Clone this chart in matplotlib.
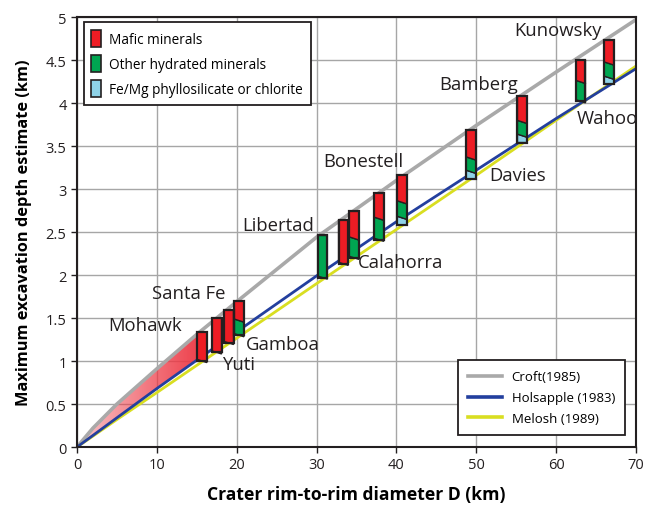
import numpy as np
import matplotlib
matplotlib.use("Agg")
import matplotlib.pyplot as plt
from matplotlib.patches import Polygon, Rectangle
from matplotlib.lines import Line2D

plt.rcParams['font.family'] = ['Open Sans', 'DejaVu Sans']

# model curves (D in km, depth in km)
curve_D = [0, 2, 5, 10, 15, 20, 30, 40, 50, 60, 70]
croft = [0, 0.22, 0.50, 0.91, 1.31, 1.69, 2.44, 3.10, 3.74, 4.36, 4.97]
holsapple = [0, 0.135, 0.34, 0.68, 1.01, 1.34, 1.99, 2.62, 3.22, 3.82, 4.40]
melosh = [0, 0.127, 0.32, 0.633, 0.95, 1.266, 1.90, 2.53, 3.16, 3.80, 4.43]

# crater bars: centre diameter, bottom, top of phyllosilicate, top of hydrated, top
bar_D = [15.66, 17.5, 19.0, 20.3, 30.75, 33.35, 34.7, 37.8, 40.7, 49.35, 55.75, 63.07, 66.6]
bar_bottom = [1.00, 1.10, 1.21, 1.30, 1.97, 2.13, 2.20, 2.41, 2.58, 3.12, 3.54, 4.02, 4.22]
phyllo_top = [1.00, 1.10, 1.21, 1.30, 1.97, 2.13, 2.20, 2.41, 2.665, 3.20, 3.62, 4.02, 4.295]
hydrated_top = [1.00, 1.10, 1.21, 1.47, 2.46, 2.13, 2.425, 2.655, 2.845, 3.355, 3.78, 4.245, 4.46]
bar_top = [1.34, 1.50, 1.59, 1.70, 2.46, 2.64, 2.74, 2.95, 3.16, 3.69, 4.08, 4.50, 4.73]

labels = ['Mohawk', 'Santa Fe', 'Yuti', 'Gamboa', 'Libertad', 'Calahorra', 'Bonestell',
          'Davies', 'Bamberg', 'Kunowsky', 'Wahoo']
label_pos = [(3.9, 1.42), (9.4, 1.79), (18.1, 0.96), (21.2, 1.20), (20.7, 2.58), (35.2, 2.15),
             (30.8, 3.33), (51.6, 3.16), (45.4, 4.22), (54.8, 4.85), (62.6, 3.82)]

RED = '#ed1c24'
GREEN = '#00a651'
LBLUE = '#8fd3e8'
GRAY = '#a9a9a9'
BLUE = '#233f9e'
YELLOW = '#d9de21'

fig = plt.figure(figsize=(6.51, 5.06), dpi=100)
ax = fig.add_axes([0.1183, 0.1146, 0.8587, 0.8498])

ax.set_xlim(0, 70)
ax.set_ylim(0, 5)
ax.set_xticks(range(0, 71, 10))
ax.set_yticks(np.arange(0, 5.01, 0.5))
ax.set_yticklabels(['0', '0.5', '1', '1.5', '2', '2.5', '3', '3.5', '4', '4.5', '5'])
ax.grid(True, color='#a6a6a6', linewidth=1.0)
ax.set_axisbelow(True)
for s in ax.spines.values():
    s.set_linewidth(1.5)
    s.set_color('#231f20')
ax.tick_params(labelsize=10.5, length=4, width=1, colors='#231f20')

# Mohawk shaded wedge between Croft and Holsapple curves
width = 1.2
x_end = bar_D[0] - width / 2
xs = np.linspace(0, x_end, 80)
top_edge = np.interp(xs, curve_D, croft)
bot_edge = np.interp(xs, curve_D, holsapple)
verts = np.vstack([np.column_stack([xs, top_edge]), np.column_stack([xs[::-1], bot_edge[::-1]])])
clip = Polygon(verts, closed=True, facecolor='none', edgecolor='none')
ax.add_patch(clip)
grad = np.zeros((2, 200, 4))
grad[..., 0] = 0.93
grad[..., 1] = 0.22
grad[..., 2] = 0.27
grad[..., 3] = np.linspace(0.3, 0.95, 200)[None, :]
im = ax.imshow(grad, extent=[0, x_end, 0, 1.5], origin='lower', aspect='auto', zorder=1.5)
im.set_clip_path(clip)

ax.plot(curve_D, croft, color=GRAY, lw=2.6, zorder=2, solid_capstyle='butt')
ax.plot(curve_D, melosh, color=YELLOW, lw=2.0, zorder=2.1)
ax.plot(curve_D, holsapple, color=BLUE, lw=2.0, zorder=2.2)

# bars, internal boundaries slightly tilted
tilt = 0.018
for i, d in enumerate(bar_D):
    x0, x1 = d - width / 2, d + width / 2
    levels = [bar_bottom[i], phyllo_top[i], hydrated_top[i], bar_top[i]]
    cols = [LBLUE, GREEN, RED]
    for k in range(3):
        lo, hi = levels[k], levels[k + 1]
        if hi - lo <= 1e-6:
            continue
        lo_t = 0 if k == 0 else tilt
        hi_t = 0 if k == 2 or hi == bar_top[i] else tilt
        poly = Polygon([(x0, lo + lo_t), (x1, lo - lo_t), (x1, hi - hi_t), (x0, hi + hi_t)],
                       closed=True, facecolor=cols[k], edgecolor='#231f20', lw=1.0, zorder=3)
        ax.add_patch(poly)
    ax.add_patch(Rectangle((x0, bar_bottom[i]), width, bar_top[i] - bar_bottom[i],
                           facecolor='none', edgecolor='#231f20', lw=1.6, zorder=4))

for name, (lx, ly) in zip(labels, label_pos):
    ax.text(lx, ly, name, fontsize=13.3, color='#231f20', ha='left', va='center', zorder=5)

ax.set_xlabel('Crater rim-to-rim diameter D (km)', fontsize=12.6, fontweight='bold', labelpad=9)
ax.set_ylabel('Maximum excavation depth estimate (km)', fontsize=11.8, fontweight='bold', labelpad=10)

# mineral legend
mh = [Rectangle((0, 0), 1, 1, facecolor=c, edgecolor='#231f20', lw=1.2) for c in (RED, GREEN, LBLUE)]
leg1 = ax.legend(mh, ['Mafic minerals', 'Other hydrated minerals', 'Fe/Mg phyllosilicate or chlorite'],
                 loc='upper left', bbox_to_anchor=(0.0125, 0.988), borderaxespad=0, fontsize=9.8,
                 frameon=True, fancybox=False, framealpha=1, edgecolor='#231f20', handlelength=0.72,
                 handleheight=1.55, handletextpad=0.6, labelspacing=0.6, borderpad=0.55)
leg1.get_frame().set_linewidth(1.3)
ax.add_artist(leg1)

lh = [Line2D([], [], color=GRAY, lw=2.6), Line2D([], [], color=BLUE, lw=2.6),
      Line2D([], [], color=YELLOW, lw=2.6)]
leg2 = ax.legend(lh, ['Croft(1985)', 'Holsapple (1983)', 'Melosh (1989)'],
                 loc='lower right', bbox_to_anchor=(0.980, 0.028), borderaxespad=0, fontsize=9.5,
                 frameon=True, fancybox=False, framealpha=1, edgecolor='#231f20', handlelength=2.6,
                 handletextpad=0.7, labelspacing=0.6, borderpad=0.75)
leg2.get_frame().set_linewidth(1.3)

fig.savefig('out.png', dpi=100)
